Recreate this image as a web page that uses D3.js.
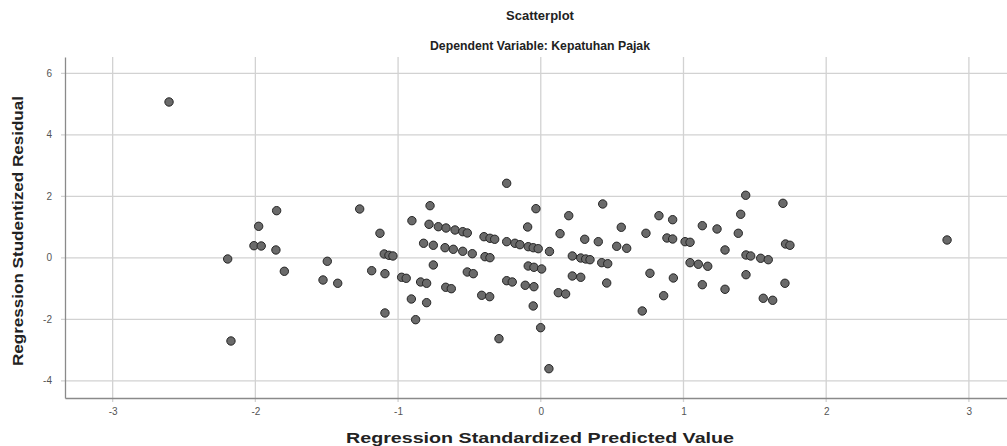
<!DOCTYPE html>
<html>
<head>
<meta charset="utf-8">
<script src="https://cdn.jsdelivr.net/npm/d3@7"></script>
<style>
  body { margin: 0; background: #fff; }
  text { font-family: "Liberation Sans", Arial, sans-serif; }
</style>
</head>
<body>
<svg></svg>
<script>
var width = 1007,
    height = 446;

// predicted values (x) and studentized residuals (y)
var predicted = [
    -2.605, -1.851, -1.977, -2.010, -1.959, -1.856, -2.194, -1.797, -2.171, -1.269,
    -0.903, -1.127, -0.821, -1.097, -1.064, -1.036, -1.496, -1.185, -1.092, -0.975,
    -0.943, -1.526, -1.423, -0.842, -0.800, -0.907, -0.800, -1.092, -0.877, -0.776,
    -0.783, -0.239, -0.034, -0.718, -0.664, -0.601, -0.547, -0.515, -0.092, -0.398,
    -0.356, -0.323, -0.239, -0.181, -0.146, -0.088, -0.053, -0.018, 0.061, -0.753,
    -0.671, -0.613, -0.547, -0.480, -0.391, -0.356, -0.753, -0.088, -0.048, 0.006,
    -0.515, -0.473, -0.239, -0.200, -0.666, -0.627, -0.109, -0.048, -0.414, -0.358,
    -0.053, -0.001, -0.293, 0.057, 0.434, 0.196, 0.828, 0.564, 0.135, 0.737,
    0.308, 0.403, 0.532, 0.602, 0.221, 0.280, 0.315, 0.345, 0.427, 0.469,
    0.221, 0.280, 0.765, 0.462, 0.123, 0.174, 0.861, 0.711, 0.884, 1.436,
    1.697, 0.924, 1.401, 1.132, 1.235, 1.384, 0.924, 1.011, 1.046, 1.291,
    1.438, 1.471, 1.541, 1.594, 1.715, 1.746, 1.046, 1.104, 1.170, 0.929,
    1.438, 1.132, 1.291, 1.711, 1.559, 1.625, 2.847
];
var residual = [
    5.067, 1.532, 1.024, 0.393, 0.384, 0.254, -0.039, -0.439, -2.706, 1.587,
    1.207, 0.797, 0.472, 0.124, 0.081, 0.059, -0.114, -0.420, -0.517, -0.634,
    -0.667, -0.722, -0.829, -0.787, -0.829, -1.340, -1.460, -1.795, -2.013, 1.694,
    1.089, 2.423, 1.597, 1.011, 0.969, 0.904, 0.849, 0.807, 1.002, 0.686,
    0.634, 0.602, 0.524, 0.472, 0.426, 0.361, 0.328, 0.296, 0.205, 0.407,
    0.328, 0.276, 0.211, 0.133, 0.036, 0.003, -0.234, -0.267, -0.309, -0.364,
    -0.462, -0.517, -0.745, -0.787, -0.959, -1.005, -0.894, -0.940, -1.220, -1.265,
    -1.567, -2.273, -2.631, -3.607, 1.750, 1.369, 1.369, 0.992, 0.784, 0.797,
    0.602, 0.524, 0.374, 0.309, 0.059, -0.007, -0.039, -0.062, -0.159, -0.192,
    -0.592, -0.634, -0.504, -0.820, -1.135, -1.177, -1.233, -1.730, 0.644, 2.033,
    1.772, 1.239, 1.415, 1.044, 0.937, 0.797, 0.611, 0.524, 0.504, 0.254,
    0.091, 0.059, -0.016, -0.062, 0.449, 0.407, -0.159, -0.211, -0.276, -0.657,
    -0.550, -0.875, -1.024, -0.829, -1.317, -1.382, 0.579
];
var xTicks = [-3, -2, -1, 0, 1, 2, 3];
var yTicks = [-4, -2, 0, 2, 4, 6];

var svg = d3.select("svg")
    .attr("width", width)
    .attr("height", height);

var x = d3.scaleLinear().domain([-3.334, 3.267]).range([65, 1007]);
var y = d3.scaleLinear().domain([-4.56, 6.53]).range([398, 57]);

///////////////////////
//
// Grid and axes
//
///////////////////////

svg.append("g")
    .selectAll("line")
    .data(xTicks)
    .enter()
    .append("line")
    .attr("x1", function(d) { return x(d); })
    .attr("x2", function(d) { return x(d); })
    .attr("y1", y.range()[1])
    .attr("y2", y.range()[0] + 4)
    .attr("stroke", "#d2d2d2")
    .attr("stroke-width", 1.3);

svg.append("g")
    .selectAll("line")
    .data(yTicks)
    .enter()
    .append("line")
    .attr("x1", x.range()[0] - 4)
    .attr("x2", x.range()[1])
    .attr("y1", function(d) { return y(d); })
    .attr("y2", function(d) { return y(d); })
    .attr("stroke", "#d2d2d2")
    .attr("stroke-width", 1.3);

// plain hyphen for negatives, like the original
var fmt = function(d) { return String(d); };

var xAxis = svg.append("g")
    .attr("transform", "translate(0," + y.range()[0] + ")")
    .call(d3.axisBottom(x).tickValues(xTicks).tickSize(0).tickPadding(10).tickFormat(fmt));

var yAxis = svg.append("g")
    .attr("transform", "translate(" + x.range()[0] + ",0)")
    .call(d3.axisLeft(y).tickValues(yTicks).tickSize(0).tickPadding(13).tickFormat(fmt));

[xAxis, yAxis].forEach(function(a) {
    a.select(".domain").attr("stroke", "#8a8a8a").attr("stroke-width", 1.3);
    a.selectAll("text")
        .attr("fill", "#555")
        .style("font-size", "10px")
        .style("font-family", "'Liberation Sans', Arial, sans-serif");
});

///////////////////////
//
// Points
//
///////////////////////

svg.append("g")
    .selectAll("circle")
    .data(predicted)
    .enter()
    .append("circle")
    .attr("cx", function(d) { return x(d); })
    .attr("cy", function(d, i) { return y(residual[i]); })
    .attr("r", 4.2)
    .attr("fill", "#6a6a6a")
    .attr("stroke", "#262626")
    .attr("stroke-width", 1);

///////////////////////
//
// Titles
//
///////////////////////

svg.append("text")
    .attr("x", 540)
    .attr("y", 20)
    .attr("text-anchor", "middle")
    .style("font-size", "13px")
    .style("font-weight", "bold")
    .attr("fill", "#222")
    .text("Scatterplot");

svg.append("text")
    .attr("x", 540)
    .attr("y", 50)
    .attr("text-anchor", "middle")
    .style("font-size", "13px")
    .style("font-weight", "bold")
    .attr("fill", "#222")
    .attr("textLength", 220)
    .attr("lengthAdjust", "spacingAndGlyphs")
    .text("Dependent Variable: Kepatuhan Pajak");

svg.append("text")
    .attr("x", 540)
    .attr("y", 443)
    .attr("text-anchor", "middle")
    .style("font-size", "15px")
    .style("font-weight", "bold")
    .attr("fill", "#222")
    .attr("textLength", 388)
    .attr("lengthAdjust", "spacingAndGlyphs")
    .text("Regression Standardized Predicted Value");

svg.append("text")
    .attr("transform", "translate(23,231) rotate(-90)")
    .attr("text-anchor", "middle")
    .style("font-size", "14px")
    .style("font-weight", "bold")
    .attr("fill", "#222")
    .attr("textLength", 270)
    .attr("lengthAdjust", "spacingAndGlyphs")
    .text("Regression Studentized Residual");
</script>
</body>
</html>
